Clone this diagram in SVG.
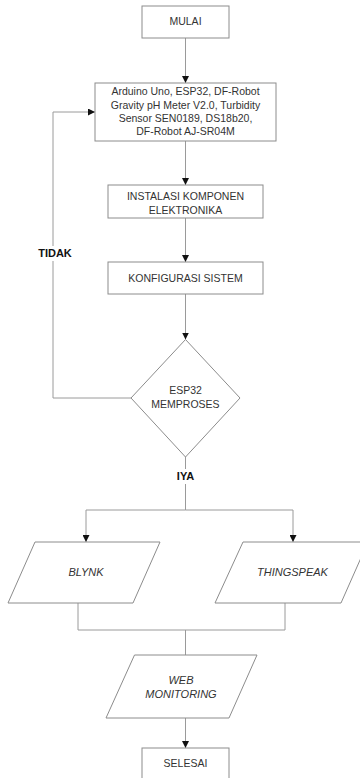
<svg xmlns="http://www.w3.org/2000/svg" width="360" height="778" viewBox="0 0 360 778">
<defs>
<style>
.box{fill:#fff;stroke:#8c8c8c;stroke-width:1}
.ln{fill:none;stroke:#9a9a9a;stroke-width:1}
.t{font-family:"Liberation Sans",Arial,sans-serif;font-size:10.5px;fill:#333;text-anchor:middle}
.i{font-style:italic;font-size:11px}
.b{font-weight:bold;fill:#111;font-size:11px}
</style>
<marker id="ar" markerWidth="8" markerHeight="7" refX="7" refY="3.5" orient="auto" markerUnits="userSpaceOnUse">
<path d="M0,0 L7,3.5 L0,7 Z" fill="#111"/>
</marker>
</defs>
<rect width="360" height="778" fill="#fff"/>
<g id="connectors">
<line class="ln" x1="185.5" y1="38" x2="185.5" y2="83" marker-end="url(#ar)"/>
<line class="ln" x1="185.5" y1="141" x2="185.5" y2="185" marker-end="url(#ar)"/>
<line class="ln" x1="185.5" y1="218" x2="185.5" y2="262" marker-end="url(#ar)"/>
<line class="ln" x1="185.5" y1="294" x2="185.5" y2="339.5" marker-end="url(#ar)"/>
<polyline class="ln" points="131,398 53,398 53,112 95,112" marker-end="url(#ar)"/>
<polyline class="ln" points="185.5,457 185.5,510 86,510 86,542" marker-end="url(#ar)"/>
<polyline class="ln" points="185.5,510 293,510 293,542" marker-end="url(#ar)"/>
<polyline class="ln" points="78,603 78,630 285,630 285,603"/>
<line class="ln" x1="185.5" y1="630" x2="185.5" y2="655"/>
<line class="ln" x1="185.5" y1="718" x2="185.5" y2="748" marker-end="url(#ar)"/>
<rect x="36" y="246" width="38" height="15" fill="#fff"/>
<text class="t b" x="55" y="257.3">TIDAK</text>
<rect x="172" y="469" width="28" height="15" fill="#fff"/>
<text class="t b" x="185.5" y="480">IYA</text>
</g>
<g id="mulai">
<rect class="box" x="142" y="6" width="87" height="32"/>
<text class="t" x="185.5" y="25.4">MULAI</text>
</g>
<g id="komponen">
<rect class="box" x="95" y="83" width="181" height="58"/>
<text class="t" x="185.5" y="95.4">Arduino Uno, ESP32, DF-Robot</text>
<text class="t" x="185.5" y="108.7">Gravity pH Meter V2.0, Turbidity</text>
<text class="t" x="185.5" y="122">Sensor SEN0189, DS18b20,</text>
<text class="t" x="185.5" y="135.4">DF-Robot AJ-SR04M</text>
</g>
<g id="instalasi">
<rect class="box" x="108" y="185" width="155" height="33"/>
<text class="t" x="185.5" y="199.5">INSTALASI KOMPONEN</text>
<text class="t" x="185.5" y="213.8">ELEKTRONIKA</text>
</g>
<g id="konfigurasi">
<rect class="box" x="108" y="262" width="155" height="32"/>
<text class="t" x="185.5" y="282">KONFIGURASI SISTEM</text>
</g>
<g id="esp32">
<polygon class="box" points="185.5,339.5 240,398 185.5,457 131,398"/>
<text class="t" x="185.5" y="393.8">ESP32</text>
<text class="t" x="185.5" y="408">MEMPROSES</text>
</g>
<g id="blynk">
<polygon class="box" points="35,542 160,542 133,603 8,603"/>
<text class="t i" x="86" y="576.4">BLYNK</text>
</g>
<g id="thingspeak">
<polygon class="box" points="243,542 368,542 341,603 215,603"/>
<text class="t i" x="292.5" y="576">THINGSPEAK</text>
</g>
<g id="web">
<polygon class="box" points="134.5,655 257,655 229,718 106,718"/>
<text class="t i" x="181" y="683.8">WEB</text>
<text class="t i" x="181" y="697.5">MONITORING</text>
</g>
<g id="selesai">
<rect class="box" x="142" y="748" width="87" height="32"/>
<text class="t" x="185.5" y="767">SELESAI</text>
</g>
</svg>
